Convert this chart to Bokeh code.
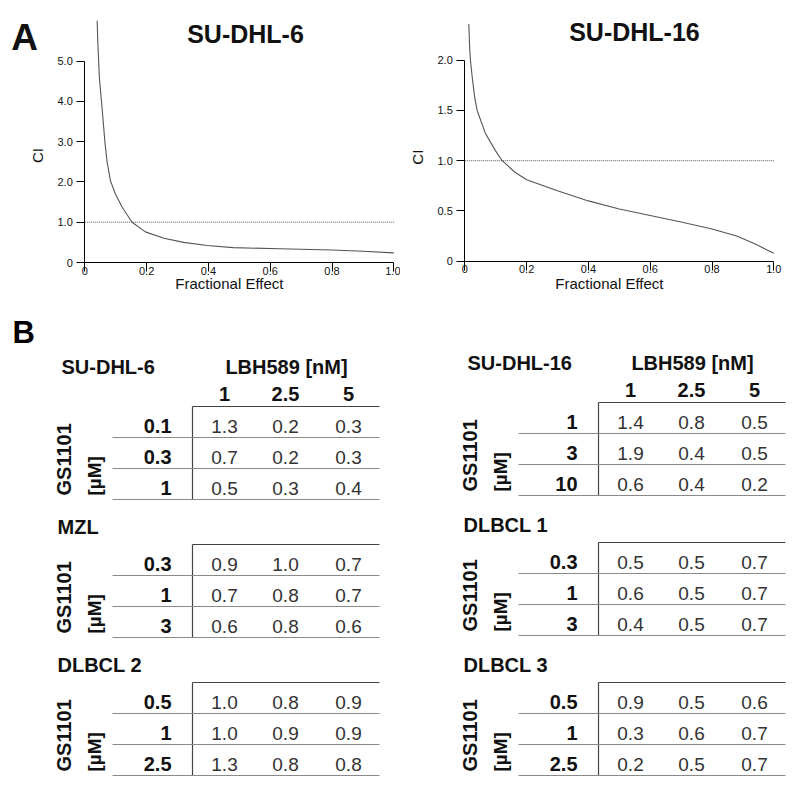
import math
from bokeh.plotting import figure
from bokeh.models import Range1d, FixedTicker, LinearAxis
from bokeh.layouts import column, row
from bokeh.embed import file_html
from bokeh.resources import INLINE
from bokeh.core.properties import value

FONT = "Liberation Sans"

# ---------------- Panel A data ----------------
fa_dhl6 = [0.040, 0.042, 0.047, 0.054, 0.065, 0.072, 0.083, 0.099, 0.121, 0.153,
           0.196, 0.256, 0.320, 0.396, 0.48, 0.63, 0.80, 0.90, 1.0]
ci_dhl6 = [6.0, 5.5, 4.6, 4.0, 3.0, 2.5, 2.03, 1.70, 1.37, 1.0,
           0.76, 0.60, 0.50, 0.42, 0.37, 0.34, 0.31, 0.28, 0.24]

fa_dhl16 = [0.013, 0.016, 0.018, 0.024, 0.032, 0.040, 0.067, 0.099, 0.121, 0.16,
            0.20, 0.30, 0.40, 0.50, 0.60, 0.70, 0.80, 0.88, 0.94, 0.98, 1.0]
ci_dhl16 = [2.36, 2.11, 2.01, 1.83, 1.63, 1.50, 1.27, 1.10, 1.0, 0.89,
            0.81, 0.70, 0.60, 0.52, 0.455, 0.39, 0.32, 0.25, 0.17, 0.11, 0.08]

ref_fa = [0.0, 1.0]          # additivity reference line CI = 1
ref_ci = [1.0, 1.0]

x_ticks = [0, 0.2, 0.4, 0.6, 0.8, 1.0]
x_tick_labels = ["0", "0.2", "0.4", "0.6", "0.8", "1.0"]
y_ticks_dhl6 = [0, 1, 2, 3, 4, 5]
y_tick_labels_dhl6 = ["0", "1.0", "2.0", "3.0", "4.0", "5.0"]
y_ticks_dhl16 = [0, 0.5, 1.0, 1.5, 2.0]
y_tick_labels_dhl16 = ["0", "0.5", "1.0", "1.5", "2.0"]

# ---------------- Panel B data ----------------
lbh_doses = ["1", "2.5", "5"]
dhl6_rows = ["0.1", "0.3", "1"]
dhl6_vals = [[1.3, 0.2, 0.3], [0.7, 0.2, 0.3], [0.5, 0.3, 0.4]]
mzl_rows = ["0.3", "1", "3"]
mzl_vals = [[0.9, 1.0, 0.7], [0.7, 0.8, 0.7], [0.6, 0.8, 0.6]]
dlbcl2_rows = ["0.5", "1", "2.5"]
dlbcl2_vals = [[1.0, 0.8, 0.9], [1.0, 0.9, 0.9], [1.3, 0.8, 0.8]]
dhl16_rows = ["1", "3", "10"]
dhl16_vals = [[1.4, 0.8, 0.5], [1.9, 0.4, 0.5], [0.6, 0.4, 0.2]]
dlbcl1_rows = ["0.3", "1", "3"]
dlbcl1_vals = [[0.5, 0.5, 0.7], [0.6, 0.5, 0.7], [0.4, 0.5, 0.7]]
dlbcl3_rows = ["0.5", "1", "2.5"]
dlbcl3_vals = [[0.9, 0.5, 0.6], [0.3, 0.6, 0.7], [0.2, 0.5, 0.7]]

H_TOP = 296
PX_X = 309.0


def ptext(p, x, y, t, size, bold=False, align="center", baseline="middle", angle=0.0):
    p.text(x=[x], y=[y], text=[t], text_align=align, text_baseline=baseline,
           text_font=value(FONT), text_font_style="bold" if bold else "normal",
           text_font_size=size, text_color="#111111", angle=angle)


def ci_plot(W, x0_px, y0_px, px_y, fa, ci, yticks, ylabels, ybound):
    p = figure(width=W, height=H_TOP, output_backend="svg", toolbar_location=None,
               x_range=Range1d(-x0_px / PX_X, (W - x0_px) / PX_X),
               y_range=Range1d(-(H_TOP - y0_px) / px_y, y0_px / px_y),
               x_axis_location=None, y_axis_location=None,
               min_border=0, min_border_left=0, min_border_right=0,
               min_border_top=0, min_border_bottom=0)
    p.outline_line_color = None
    p.grid.visible = False
    p.background_fill_color = "white"
    p.border_fill_color = "white"

    xa = LinearAxis(fixed_location=0, ticker=FixedTicker(ticks=x_ticks))
    xa.major_label_overrides = {t: l for t, l in zip(x_ticks, x_tick_labels)}
    xa.bounds = (0, 1.0)
    xa.major_tick_out = 9
    xa.major_tick_in = 0
    xa.major_label_standoff = -5

    ya = LinearAxis(fixed_location=0, ticker=FixedTicker(ticks=yticks))
    ya.major_label_overrides = {t: l for t, l in zip(yticks, ylabels)}
    ya.bounds = (0, ybound)
    ya.major_tick_out = 8
    ya.major_tick_in = 0
    ya.major_label_standoff = 4
    ya.major_label_text_baseline = "alphabetic"

    for ax in (xa, ya):
        ax.minor_tick_line_color = None
        ax.axis_line_color = "black"
        ax.major_tick_line_color = "black"
        ax.major_label_text_font = FONT
        ax.major_label_text_font_size = "11px"
        ax.major_label_text_color = "#111111"
    p.add_layout(xa, "below")
    p.add_layout(ya, "left")

    p.line(ref_fa, ref_ci, line_color="#555555", line_width=1, line_dash="1 1")
    p.line(fa, ci, line_color="#555555", line_width=1.1, line_join="round")
    return p


pA1 = ci_plot(400, 84.3, 262.0, 40.3, fa_dhl6, ci_dhl6, y_ticks_dhl6, y_tick_labels_dhl6, 5.0)
ptext(pA1, 0.52, 5.675, "SU-DHL-6", "25px", bold=True, baseline="alphabetic")
ptext(pA1, -0.195, 5.583, "A", "37px", bold=True, baseline="alphabetic")
ptext(pA1, -0.153, 2.655, "CI", "15px", angle=math.pi / 2)
ptext(pA1, 0.468, -0.521, "Fractional Effect", "15px")

pA2 = ci_plot(392, 64.3, 260.7, 100.5, fa_dhl16, ci_dhl16, y_ticks_dhl16, y_tick_labels_dhl16, 2.0)
ptext(pA2, 0.549, 2.279, "SU-DHL-16", "25px", bold=True, baseline="alphabetic")
ptext(pA2, -0.154, 1.035, "CI", "15px", angle=math.pi / 2)
ptext(pA2, 0.468, -0.222, "Fractional Effect", "15px")

# ---------------- Panel B: tables ----------------
pB = figure(width=792, height=483, output_backend="svg", toolbar_location=None,
            x_range=Range1d(0, 792), y_range=Range1d(779, 296),
            min_border=0, min_border_left=0, min_border_right=0,
            min_border_top=0, min_border_bottom=0)
pB.axis.visible = False
pB.grid.visible = False
pB.outline_line_color = None

pB.text(x=[12], y=[332], text=["B"], text_align="left", text_baseline="alphabetic",
        text_font=value(FONT), text_font_style="bold", text_font_size="31px",
        text_color="black")

ROW_H = 31
COL_DX = [32, 93, 156]
RIGHT_DX = 187
LEFT_DX = -80

tables = [
    ("SU-DHL-6", dhl6_rows, dhl6_vals, 192, 406, True),
    ("MZL", mzl_rows, mzl_vals, 192, 544, False),
    ("DLBCL  2", dlbcl2_rows, dlbcl2_vals, 192, 682, False),
    ("SU-DHL-16", dhl16_rows, dhl16_vals, 598, 402, True),
    ("DLBCL  1", dlbcl1_rows, dlbcl1_vals, 598, 542, False),
    ("DLBCL  3", dlbcl3_rows, dlbcl3_vals, 598, 682, False),
]


def txt(x, y, t, align="center", bold=False, size="19px", color="#333333", angle=0.0,
        baseline="middle"):
    pB.text(x=x, y=y, text=t, text_align=align, text_baseline=baseline,
            text_font=value(FONT), text_font_style="bold" if bold else "normal",
            text_font_size=size, text_color=color, angle=angle)


for name, rows, vals, vx, ty, header in tables:
    n = len(rows)
    pB.segment(x0=[vx], y0=[ty], x1=[vx], y1=[ty + n * ROW_H], line_color="#444444", line_width=1.2)
    pB.segment(x0=[vx], y0=[ty], x1=[vx + RIGHT_DX], y1=[ty], line_color="#444444", line_width=1.2)
    ys_line = [ty + (i + 1) * ROW_H for i in range(n)]
    pB.segment(x0=[vx + LEFT_DX] * n, y0=ys_line, x1=[vx + RIGHT_DX] * n, y1=ys_line,
               line_color="#8a8a8a", line_width=1)
    ys_txt = [ty + (i + 0.5) * ROW_H + 4 for i in range(n)]
    txt([vx - 21] * n, ys_txt, rows, align="right", bold=True, size="20px", color="#111111")
    for j in range(len(lbh_doses)):
        txt([vx + COL_DX[j]] * n, ys_txt, ["%.1f" % vals[i][j] for i in range(n)],
            size="19px", color="#333333")
    txt([vx - 129], [ty + 89], ["GS1101"], align="left", bold=True, size="20px",
        color="#111111", angle=math.pi / 2)
    txt([vx - 98], [ty + 89], ["[\u00b5M]"], align="left", bold=True, size="19px",
        color="#111111", angle=math.pi / 2)
    if header:
        txt([vx - 131], [ty - 40], [name], align="left", bold=True, size="20px", color="#111111")
        txt([vx + 94], [ty - 40], ["LBH589 [nM]"], bold=True, size="20px", color="#111111")
        txt([vx + dx for dx in COL_DX], [ty - 13] * 3, lbh_doses, bold=True, size="20px",
            color="#111111")
    else:
        txt([vx - 135], [ty - 18], [name], align="left", bold=True, size="20px", color="#111111")

layout = column(row(pA1, pA2, spacing=0), pB, spacing=0)
open("out.html", "w").write(file_html(layout, INLINE))
